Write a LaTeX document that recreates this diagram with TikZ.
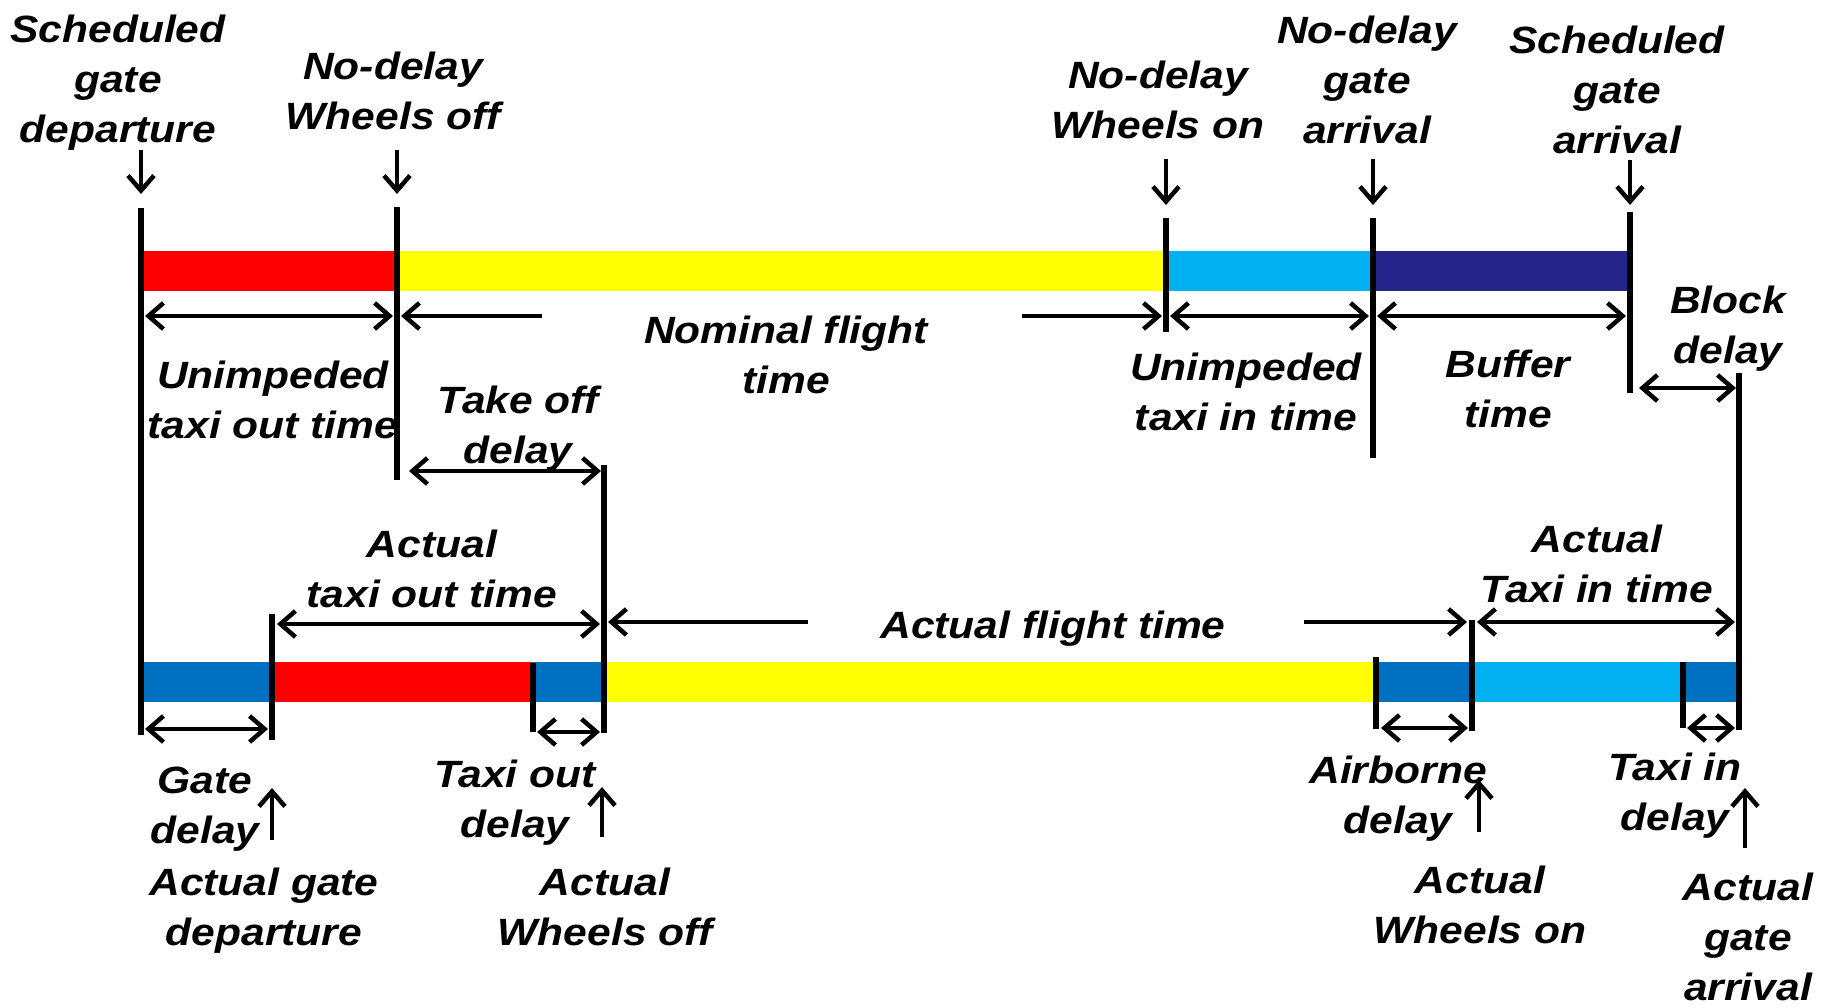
\documentclass[tikz,border=0pt]{standalone}
\usepackage{fontspec}
\setmainfont{Liberation Sans}[FakeStretch=1.12]
\usetikzlibrary{arrows.meta}
\definecolor{cRed}{RGB}{255,0,0}
\definecolor{cYel}{RGB}{255,255,0}
\definecolor{cLB}{RGB}{0,176,240}
\definecolor{cNavy}{RGB}{36,36,138}
\definecolor{cBlue}{RGB}{0,112,192}
\newcommand\ml[1]{\begin{tabular}[t]{@{}c@{}}#1\end{tabular}}
\begin{document}
\begin{tikzpicture}[x=1pt,y=-1pt,
  lab/.style={anchor=base,inner sep=0pt,font=\fontsize{38}{50}\selectfont\bfseries\itshape},
  tick/.style={line width=6.5pt},
  dim/.style={line width=4.5pt,{Straight Barb[length=15pt,width=26pt]}-{Straight Barb[length=15pt,width=26pt]}},
  one/.style={line width=4.5pt,-{Straight Barb[length=15pt,width=26pt]}}]
\useasboundingbox (0,0) rectangle (1828,1007);
% ---------- bars
\fill[cRed]  (141,251) rectangle (397,291);
\fill[cYel]  (397,251) rectangle (1166,291);
\fill[cLB]   (1166,251) rectangle (1373,291);
\fill[cNavy] (1373,251) rectangle (1630,291);
\fill[cBlue] (141,662) rectangle (272,702);
\fill[cRed]  (272,662) rectangle (533,702);
\fill[cBlue] (533,662) rectangle (604,702);
\fill[cYel]  (604,662) rectangle (1376,702);
\fill[cBlue] (1376,662) rectangle (1472,702);
\fill[cLB]   (1472,662) rectangle (1683,702);
\fill[cBlue] (1683,662) rectangle (1736,702);
% ---------- labels
\node[lab] (tSGD) at (118,42) {\ml{Scheduled\\gate\\departure}};
\node[lab] (tNDWoff) at (393,79) {\ml{No-delay\\Wheels off}};
\node[lab] (tUTO) at (273,388) {\ml{Unimpeded\\taxi out time}};
\node[lab] (tTOD) at (518,413) {\ml{Take off\\delay}};
\node[lab] (tNFT) at (786,343) {\ml{Nominal flight\\time}};
\node[lab] (tNDWon) at (1158,88) {\ml{No-delay\\Wheels on}};
\node[lab] (tNDGA) at (1367,43) {\ml{No-delay\\gate\\arrival}};
\node[lab] (tSGA) at (1617,53) {\ml{Scheduled\\gate\\arrival}};
\node[lab] (tUTI) at (1246,380) {\ml{Unimpeded\\taxi in time}};
\node[lab] (tBuf) at (1508,377) {\ml{Buffer\\time}};
\node[lab] (tBD) at (1728,313) {\ml{Block\\delay}};
\node[lab] (tATO) at (432,557) {\ml{Actual\\taxi out time}};
\node[lab] (tAFT) at (1053,638) {Actual flight time};
\node[lab] (tATI) at (1597,552) {\ml{Actual\\Taxi in time}};
\node[lab] (tGD) at (205,793) {\ml{Gate\\delay}};
\node[lab] (tAGD) at (264,895) {\ml{Actual gate\\departure}};
\node[lab] (tTXOD) at (515,787) {\ml{Taxi out\\delay}};
\node[lab] (tAWoff) at (605,895) {\ml{Actual\\Wheels off}};
\node[lab] (tAirD) at (1398,783) {\ml{Airborne\\delay}};
\node[lab] (tAWon) at (1480,893) {\ml{Actual\\Wheels on}};
\node[lab] (tTXID) at (1675,780) {\ml{Taxi in\\delay}};
\node[lab] (tAGA) at (1748,900) {\ml{Actual\\gate\\arrival}};
% ---------- vertical event lines
\coordinate (A1) at (141,208);  \coordinate (A2) at (141,735);
\coordinate (B1) at (397,207);  \coordinate (B2) at (397,480);
\coordinate (C1) at (1166,218); \coordinate (C2) at (1166,332);
\coordinate (D1) at (1373,218); \coordinate (D2) at (1373,458);
\coordinate (E1) at (1630,212); \coordinate (E2) at (1630,393);
\coordinate (F1) at (1739,373); \coordinate (F2) at (1739,730);
\coordinate (G1) at (604,465);  \coordinate (G2) at (604,733);
\coordinate (H1) at (272,614);  \coordinate (H2) at (272,740);
\coordinate (I1) at (533,663);  \coordinate (I2) at (533,732);
\coordinate (J1) at (1376,657); \coordinate (J2) at (1376,729);
\coordinate (K1) at (1472,620); \coordinate (K2) at (1472,731);
\coordinate (L1) at (1683,662); \coordinate (L2) at (1683,728);
\foreach \n in {A,B,C,D,E,F,G,H,I,J,K,L} \draw[tick] (\n1) -- (\n2);
% ---------- down arrows (top events)
\coordinate (dA1) at (141,150);  \coordinate (dA2) at (141,194);
\coordinate (dB1) at (397,150);  \coordinate (dB2) at (397,194);
\coordinate (dC1) at (1166,159); \coordinate (dC2) at (1166,205);
\coordinate (dD1) at (1373,159); \coordinate (dD2) at (1373,205);
\coordinate (dE1) at (1630,160); \coordinate (dE2) at (1630,205);
\foreach \n in {dA,dB,dC,dD,dE} \draw[one] (\n1) -- (\n2);
% ---------- up arrows (bottom events)
\coordinate (uH1) at (272,840);  \coordinate (uH2) at (272,788);
\coordinate (uG1) at (602,837);  \coordinate (uG2) at (602,787);
\coordinate (uK1) at (1479,832); \coordinate (uK2) at (1479,780);
\coordinate (uF1) at (1745,848); \coordinate (uF2) at (1745,788);
\foreach \n in {uH,uG,uK,uF} \draw[one] (\n1) -- (\n2);
% ---------- top dimension arrows
\coordinate (r1a) at (145,316);  \coordinate (r1b) at (393,316);
\coordinate (nfa) at (542,316);  \coordinate (nfb) at (401,316);
\coordinate (nfc) at (1022,316); \coordinate (nfd) at (1162,316);
\coordinate (r2a) at (1170,316); \coordinate (r2b) at (1369,316);
\coordinate (r3a) at (1377,316); \coordinate (r3b) at (1626,316);
\coordinate (bda) at (1639,388); \coordinate (bdb) at (1736,388);
\coordinate (toa) at (409,471);  \coordinate (tob) at (601,471);
\draw[dim] (r1a) -- (r1b);
\draw[one] (nfa) -- (nfb);
\draw[one] (nfc) -- (nfd);
\draw[dim] (r2a) -- (r2b);
\draw[dim] (r3a) -- (r3b);
\draw[dim] (bda) -- (bdb);
\draw[dim] (toa) -- (tob);
% ---------- bottom dimension arrows
\coordinate (atoa) at (277,624);  \coordinate (atob) at (600,624);
\coordinate (afa) at (808,622);   \coordinate (afb) at (608,622);
\coordinate (afc) at (1304,622);  \coordinate (afd) at (1467,622);
\coordinate (atia) at (1477,622); \coordinate (atib) at (1735,622);
\coordinate (gda) at (145,729);   \coordinate (gdb) at (268,729);
\coordinate (txa) at (537,732);   \coordinate (txb) at (600,732);
\coordinate (ada) at (1381,728);  \coordinate (adb) at (1468,728);
\coordinate (tia) at (1687,728);  \coordinate (tib) at (1735,728);
\draw[dim] (atoa) -- (atob);
\draw[one] (afa) -- (afb);
\draw[one] (afc) -- (afd);
\draw[dim] (atia) -- (atib);
\draw[dim] (gda) -- (gdb);
\draw[dim] (txa) -- (txb);
\draw[dim] (ada) -- (adb);
\draw[dim] (tia) -- (tib);
\end{tikzpicture}
\end{document}
